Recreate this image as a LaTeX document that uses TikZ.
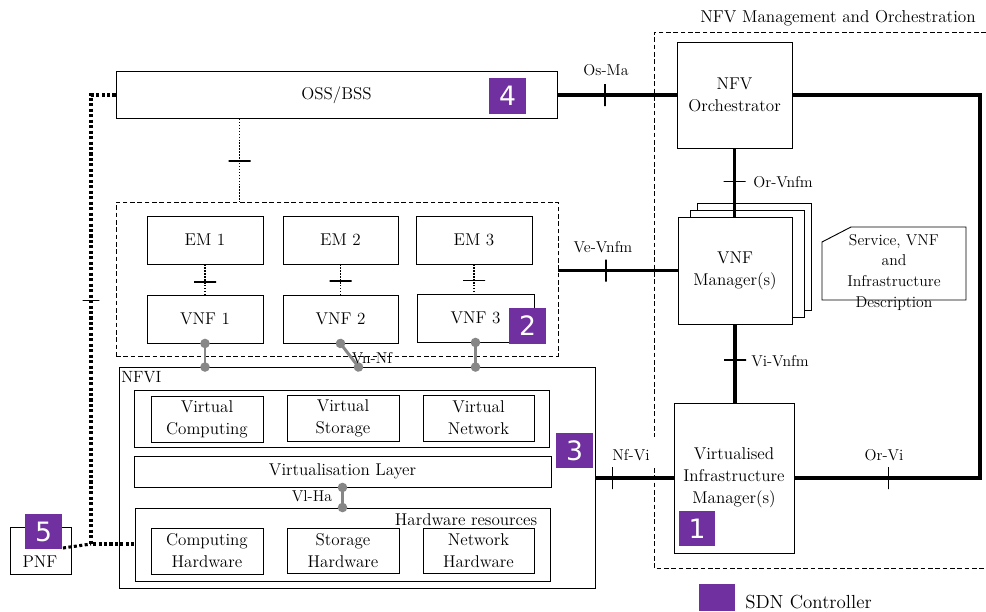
\documentclass[tikz,border=0pt]{standalone}
\usepackage{fontspec}
\newfontfamily\sdndigits{DejaVu Sans}
\usetikzlibrary{arrows.meta,calc}
\definecolor{sdnpurple}{HTML}{7030A0}
\definecolor{refgrey}{HTML}{878787}
\newcommand{\nfvboxfont}{\fontsize{12.8}{16.5}\selectfont}
\newcommand{\nfvlblfont}{\fontsize{11.8}{15}\selectfont}
\newcommand{\nfvdescfont}{\fontsize{11.8}{15.5}\selectfont}
\tikzset{
	box/.style 2 args={draw, line width=0.7pt, fill=white, inner sep=0pt, align=center, font=\nfvboxfont, minimum width=#1*0.75pt, minimum height=#2*0.75pt},
	grpbox/.style 2 args={draw, line width=0.6pt, dash pattern=on 3.5pt off 2pt, inner sep=0pt, minimum width=#1*0.75pt, minimum height=#2*0.75pt},
	sdn/.style={fill=sdnpurple, text=white, inner sep=0pt, minimum width=27.5pt, minimum height=26.5pt, font=\sdndigits\fontsize{20}{20}\selectfont},
	iface/.style={line width=2.6pt},
	ems/.style={line width=1.1pt, dash pattern=on 1.1pt off 1.1pt},
	osslink/.style={line width=2.3pt, dash pattern=on 2.3pt off 1.8pt},
	vnnf/.style={refgrey, line width=2.2pt, {Circle[length=7pt]}-{Circle[length=7pt]}, shorten <=-3.5pt, shorten >=-3.5pt},
	vmark/.style={draw, line width=0.9pt, inner sep=0pt, minimum width=0pt, minimum height=16.5pt},
	hmark/.style={draw, line width=0.9pt, inner sep=0pt, minimum height=0pt, minimum width=16.5pt},
	refp/.style={font=\nfvlblfont, inner sep=0pt},
}
\begin{document}
\begin{tikzpicture}[x=0.75pt,y=-0.75pt]
	\useasboundingbox (0,0) rectangle (986,611);
	% management and orchestration
	\draw[line width=0.6pt, dash pattern=on 3.5pt off 2pt] (986,32) -- (654,32) -- (654,437);
	\draw[line width=0.6pt, dash pattern=on 3.5pt off 2pt] (654,468) -- (654,568) -- (986,568);
	\node[font=\fontsize{12.9}{15}\selectfont, inner sep=0pt] (manolbl) at (838,18) {NFV Management and Orchestration};
	\node[box={441}{47}] (oss) at (336.5,95) {OSS/BSS};
	\node[box={115}{106}] (orch) at (734.5,95) {NFV\\Orchestrator};
	\node[box={114}{107}] (vnfmc) at (754.5,256.5) {};
	\node[box={114}{107}] (vnfmb) at (747,263.5) {};
	\node[box={114}{107}] (vnfm) at (735,270.5) {VNF\\Manager(s)};
	\node[box={120}{150}] (vim) at (734,478) {Virtualised\\Infrastructure\\Manager(s)};
	\draw[line width=0.7pt] (822,242) -- (851,227) -- (966,227) -- (966,300) -- (822,300) -- cycle;
	\node[font=\nfvdescfont, align=center, inner sep=0pt] (desc) at (894,272) {Service, VNF\\and\\Infrastructure\\Description};
	% EMs and VNFs
	\node[grpbox={442}{154}] (vnfgrp) at (337,279) {};
	\node[box={116}{48}] (em1) at (205,240) {EM 1};
	\node[box={115}{48}] (em2) at (340.5,240) {EM 2};
	\node[box={116}{48}] (em3) at (474,240) {EM 3};
	\node[box={116}{48}] (vnf1) at (205,319) {VNF 1};
	\node[box={115}{48}] (vnf2) at (340.5,319) {VNF 2};
	\node[box={117}{48}] (vnf3) at (475.5,318) {VNF 3};
	% NFVI
	\node[box={476}{221}] (nfvi) at (357,478) {};
	\node[font=\fontsize{12.2}{15}\selectfont, anchor=north west, inner sep=0pt] (nfvilbl) at (121,371) {NFVI};
	\node[box={415}{57}] (vrow) at (341.5,418.5) {};
	\node[box={112}{46}] (vcomp) at (207,419) {Virtual\\Computing};
	\node[box={112}{46}] (vstor) at (343,418) {Virtual\\Storage};
	\node[box={111}{46}] (vnet) at (478.5,418) {Virtual\\Network};
	\node[box={417}{31}] (vlayer) at (342.5,471.5) {Virtualisation Layer};
	\node[box={415}{73}] (hw) at (342.5,544.5) {};
	\node[font=\nfvboxfont, inner sep=0pt] (hwlbl) at (466,520) {Hardware resources};
	\node[box={112}{46}] (chw) at (207,551) {Computing\\Hardware};
	\node[box={112}{45}] (shw) at (343,550.5) {Storage\\Hardware};
	\node[box={111}{45}] (nhw) at (478.5,550.5) {Network\\Hardware};
	\node[box={61}{47}] (pnf) at (40.5,550.5) {};
	\node[font=\nfvboxfont, inner sep=0pt] (pnflbl) at (40,562) {PNF};
	% reference points
	\draw[iface] (oss.east) -- (orch.west);
	\path (oss.east) -- node[pos=0.4, vmark] {} (orch.west);
	\node[refp] (osmalbl) at (606,70) {Os-Ma};
	\draw[iface] (orch.south) -- (orch.south |- vnfm.north);
	\path (orch.south) -- node[pos=0.48, hmark] {} (orch.south |- vnfm.north);
	\node[refp, anchor=west] (orvnfmlbl) at (753,182) {Or-Vnfm};
	\draw[iface] (vnfm.west -| vnfgrp.east) -- (vnfm.west);
	\path (vnfm.west -| vnfgrp.east) -- node[pos=0.4, vmark] {} (vnfm.west);
	\node[refp] (vevnfmlbl) at (603,247) {Ve-Vnfm};
	\draw[iface] (vnfm.south) -- (vnfm.south |- vim.north);
	\path (vnfm.south) -- node[pos=0.456, hmark] {} (vnfm.south |- vim.north);
	\node[refp, anchor=west] (vivnfmlbl) at (751,361) {Vi-Vnfm};
	\draw[iface] (nfvi.east) -- (vim.west);
	\path (nfvi.east) -- node[pos=0.215, vmark] {} (vim.west);
	\node[refp] (nfvilabel) at (631,455) {Nf-Vi};
	\coordinate (orbend) at (980,95);
	\draw[iface] (vim.east) -- (vim.east -| orbend) -- (orbend) -- (orch.east);
	\path (vim.east) -- node[pos=0.505, vmark] {} (vim.east -| orbend);
	\node[refp] (orvilbl) at (884,455) {Or-Vi};
	\coordinate (ossdn) at ($(oss.south west)!0.281!(oss.south east)$);
	\draw[ems] (ossdn) -- (ossdn |- vnfgrp.north);
	\path (ossdn) -- node[pos=0.51, hmark, line width=1.3pt] {} (ossdn |- vnfgrp.north);
	\draw[ems] (em1.south) -- (vnf1.north);
	\path (em1.south) -- node[pos=0.58, hmark, line width=1.3pt] {} (vnf1.north);
	\draw[ems] (em2.south) -- (vnf2.north);
	\path (em2.south) -- node[pos=0.56, hmark, line width=1.3pt] {} (vnf2.north);
	\draw[ems] (em3.south) -- (em3.south |- vnf3.north);
	\path (em3.south) -- node[pos=0.55, hmark, line width=1.3pt] {} (em3.south |- vnf3.north);
	\draw[vnnf] (vnf1.south) -- (vnf1.south |- nfvi.north);
	\draw[vnnf] (vnf2.south) -- ($(vnf2.south |- nfvi.north)+(18,0)$);
	\draw[vnnf] (vnf3.south) -- (vnf3.south |- nfvi.north);
	\node[refp] (vnnflbl) at (372,358) {Vn-Nf};
	\draw[vnnf] (vlayer.south) -- (vlayer.south |- hw.north);
	\node[refp] (vlhalbl) at (312,496) {Vl-Ha};
	\coordinate (pnfjn) at (91,544);
	\coordinate (pnfout) at (63,548);
	\draw[osslink] (oss.west) -- (oss.west -| pnfjn) -- (pnfjn) -- (pnfjn -| hw.west);
	\path (oss.west -| pnfjn) -- node[pos=0.457, hmark, line width=0.8pt, minimum width=12.5pt] {} (pnfjn);
	\draw[osslink] (pnfout) -- (pnfjn);
	% SDN controllers
	\node[sdn] (sdn4) at (507.5,96) {4};
	\node[sdn] (sdn2) at (527.5,326) {2};
	\node[sdn] (sdn3) at (574.5,450.5) {3};
	\node[sdn] (sdn1) at (697,528.5) {1};
	\node[sdn] (sdn5) at (43.5,531.5) {5};
	\node[sdn, minimum width=27pt, minimum height=20.25pt] (sdnkey) at (717,597.5) {};
	\node[font=\fontsize{14.2}{16}\selectfont, anchor=west, inner sep=0pt] (sdnkeylbl) at (745,602) {SDN Controller};
\end{tikzpicture}
\end{document}
